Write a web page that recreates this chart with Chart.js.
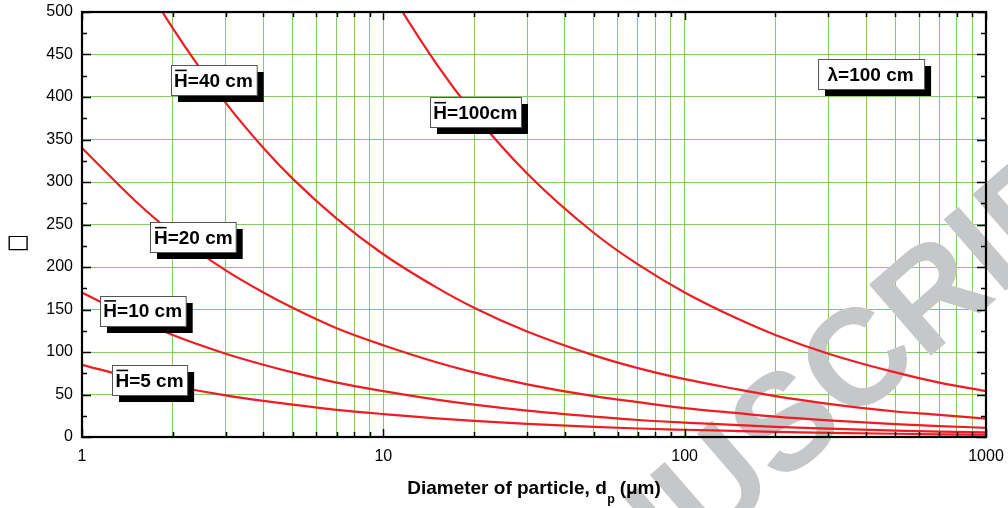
<!DOCTYPE html>
<html>
<head>
<meta charset="utf-8">
<script src="https://cdn.jsdelivr.net/npm/chart.js@4.4.1/dist/chart.umd.min.js"></script>
<style>
  html, body { margin: 0; padding: 0; background: #fff; }
  #wrap { width: 1008px; height: 508px; }
</style>
</head>
<body>
<div id="wrap"><canvas id="c" width="1008" height="508"></canvas></div>
<script>
// ---- data ----
const diameters = [1, 1.5, 2, 3, 4, 5, 7, 10, 15, 20, 30, 50, 70, 100, 150, 200, 300, 500, 700, 1000];
const seriesH5   = [85, 69, 60, 49, 42.5, 38, 32, 27, 22, 19, 15.5, 12, 10, 8.5, 7, 6, 4.9, 3.8, 3.2, 2.7];
const seriesH10  = [170, 139, 120, 98, 85, 76, 64, 54, 44, 38, 31, 24, 20, 17, 14, 12, 9.8, 7.6, 6.4, 5.4];
const seriesH20  = [340, 278, 240, 196, 170, 152, 128, 108, 88, 76, 62, 48, 41, 34, 28, 24, 19.6, 15.2, 12.8, 10.8];
const seriesH40  = [680, 555, 481, 393, 340, 304, 257, 215, 176, 152, 124, 96, 81, 68, 56, 48, 39, 30, 26, 21.5];
const seriesH100 = [1700, 1388, 1202, 981, 850, 760, 643, 538, 439, 380, 310, 240, 203, 170, 139, 120, 98, 76, 64, 54];
const seriesNames = ['H=5 cm', 'H=10 cm', 'H=20 cm', 'H=40 cm', 'H=100cm'];
const xTickLabels = ['1', '10', '100', '1000'];
const xMajorTicks = [1, 10, 100, 1000];
const yTickValues = [0, 50, 100, 150, 200, 250, 300, 350, 400, 450, 500];
const xTitle = ['Diameter of particle, d', 'p', ' (\u03BCm)'];
const yTitle = '\u25A1';
const watermarkText = 'MANUSCRIPT';

// label boxes (anchored in data coordinates)
const labelBoxes = [
  { text: 'H=40 cm',  bar: true,  x: 2.73, y: 420,   padX: 3.5 },
  { text: 'H=100cm',  bar: true,  x: 20.2, y: 382,   padX: 3.5 },
  { text: '\u03BB=100 cm', bar: false, x: 414, y: 426.5, padX: 10 },
  { text: 'H=20 cm',  bar: true,  x: 2.34, y: 235,   padX: 3.5 },
  { text: 'H=10 cm',  bar: true,  x: 1.59, y: 148.8, padX: 3.5 },
  { text: 'H=5 cm',   bar: true,  x: 1.675, y: 67,   padX: 3.5 }
];

// minor x ticks (gridlines) for each decade
const xAllTicks = [];
for (const d of [1, 10, 100]) for (let k = 1; k <= 9; k++) xAllTicks.push(d * k);
xAllTicks.push(1000);

const FONT = '"Liberation Sans", Arial, sans-serif';
const RED = '#ee1d23';
const GRID = '#84cc6a';

const seriesList = [seriesH5, seriesH10, seriesH20, seriesH40, seriesH100];
const datasets = seriesList.map((s, i) => ({
  label: seriesNames[i],
  data: diameters.map((d, j) => ({ x: d, y: s[j] })),
  borderColor: RED,
  backgroundColor: RED,
  borderWidth: 2.2,
  pointRadius: 0,
  cubicInterpolationMode: 'monotone',
  fill: false
}));

const watermarkPlugin = {
  id: 'watermark',
  beforeDatasetsDraw(chart) {
    const ctx = chart.ctx;
    ctx.save();
    ctx.translate(790, 428);
    ctx.rotate(-41 * Math.PI / 180);
    ctx.font = 'bold 137px ' + FONT;
    ctx.fillStyle = '#c6c7c9';
    ctx.textAlign = 'center';
    ctx.textBaseline = 'middle';
    ctx.fillText(watermarkText, 0, 0);
    ctx.restore();
  }
};

const framePlugin = {
  id: 'frame',
  afterDatasetsDraw(chart) {
    const { ctx, chartArea: a, scales: { x, y } } = chart;
    ctx.save();
    ctx.strokeStyle = '#000';
    ctx.lineWidth = 1.5;
    ctx.beginPath();
    for (const t of xAllTicks) {
      const px = Math.round(x.getPixelForValue(t)) + 0.5;
      const len = xMajorTicks.includes(t) ? 8 : 5;
      ctx.moveTo(px, a.bottom); ctx.lineTo(px, a.bottom - len);
      ctx.moveTo(px, a.top); ctx.lineTo(px, a.top + len);
    }
    for (let v = 0; v <= 500; v += 25) {
      const py = Math.round(y.getPixelForValue(v)) + 0.5;
      const len = v % 50 === 0 ? 9 : 5;
      ctx.moveTo(a.left, py); ctx.lineTo(a.left + len, py);
      ctx.moveTo(a.right, py); ctx.lineTo(a.right - len, py);
    }
    ctx.stroke();
    ctx.lineWidth = 2.2;
    ctx.strokeRect(a.left, a.top, a.right - a.left, a.bottom - a.top);

    // label boxes
    ctx.font = 'bold 19px ' + FONT;
    ctx.textAlign = 'left';
    ctx.textBaseline = 'alphabetic';
    const cap = 13.6;
    for (const l of labelBoxes) {
      const cx = x.getPixelForValue(l.x);
      const cy = y.getPixelForValue(l.y);
      const tw = ctx.measureText(l.text).width;
      const w = tw + 2 * l.padX;
      const h = 30;
      const left = Math.round(cx - w / 2) + 0.5;
      const top = Math.round(cy - h / 2) + 0.5;
      ctx.fillStyle = '#000';
      ctx.fillRect(left + 6.5, top + 6.5, w, h);
      ctx.fillStyle = '#fff';
      ctx.fillRect(left, top, w, h);
      ctx.strokeStyle = '#555';
      ctx.lineWidth = 1;
      ctx.strokeRect(left, top, w, h);
      ctx.fillStyle = '#000';
      const tx = cx - tw / 2;
      const base = cy + cap / 2;
      ctx.fillText(l.text, tx, base);
      if (l.bar) {
        const hw = ctx.measureText('H').width;
        ctx.lineWidth = 1.6;
        ctx.strokeStyle = '#000';
        ctx.beginPath();
        ctx.moveTo(tx + 1, base - cap - 2.8);
        ctx.lineTo(tx + hw - 1, base - cap - 2.8);
        ctx.stroke();
      }
    }
    ctx.restore();
  },
  afterDraw(chart) {
    const ctx = chart.ctx;
    const a = chart.chartArea;
    ctx.save();
    ctx.fillStyle = '#000';
    ctx.textBaseline = 'alphabetic';
    ctx.textAlign = 'left';
    const big = 'bold 19px ' + FONT, small = 'bold 12.5px ' + FONT;
    ctx.font = big; const w1 = ctx.measureText(xTitle[0]).width; const w3 = ctx.measureText(xTitle[2]).width;
    ctx.font = small; const w2 = ctx.measureText(xTitle[1]).width;
    const total = w1 + w2 + w3;
    let sx = (a.left + a.right) / 2 - total / 2;
    const base = 494;
    ctx.font = big; ctx.fillText(xTitle[0], sx, base); sx += w1;
    ctx.font = small; ctx.fillText(xTitle[1], sx + 0.5, base + 8.5); sx += w2;
    ctx.font = big; ctx.fillText(xTitle[2], sx, base);
    // y title
    ctx.translate(18, 243);
    ctx.scale(1.35, 1);
    ctx.font = '19px "DejaVu Sans"';
    ctx.textAlign = 'center';
    ctx.textBaseline = 'middle';
    ctx.fillText(yTitle, 0, 0);
    ctx.restore();
  }
};

new Chart(document.getElementById('c'), {
  type: 'line',
  data: { datasets },
  options: {
    responsive: false,
    animation: false,
    devicePixelRatio: 1,
    layout: { padding: { left: 0, right: 22, top: 12, bottom: 0 } },
    plugins: { legend: { display: false }, tooltip: { enabled: false } },
    scales: {
      x: {
        type: 'logarithmic',
        min: 1, max: 1000,
        afterBuildTicks(scale) { scale.ticks = xAllTicks.map(v => ({ value: v })); },
        afterFit(scale) { scale.height = 71; scale.paddingLeft = 0; scale.paddingRight = 0; },
        ticks: {
          autoSkip: false, maxRotation: 0, padding: 10,
          color: '#000', font: { family: FONT, size: 16 },
          callback(v) { const i = xMajorTicks.indexOf(v); return i >= 0 ? xTickLabels[i] : ''; }
        },
        grid: { color: GRID, lineWidth: 1, drawTicks: false },
        border: { display: false }
      },
      y: {
        type: 'linear',
        min: 0, max: 500,
        afterBuildTicks(scale) { scale.ticks = yTickValues.map(v => ({ value: v })); },
        afterFit(scale) { scale.width = 82; scale.paddingTop = 0; scale.paddingBottom = 0; },
        ticks: { padding: 9, color: '#000', font: { family: FONT, size: 16 } },
        grid: { color: GRID, lineWidth: 1, drawTicks: false },
        border: { display: false }
      }
    }
  },
  plugins: [watermarkPlugin, framePlugin]
});
</script>
</body>
</html>
